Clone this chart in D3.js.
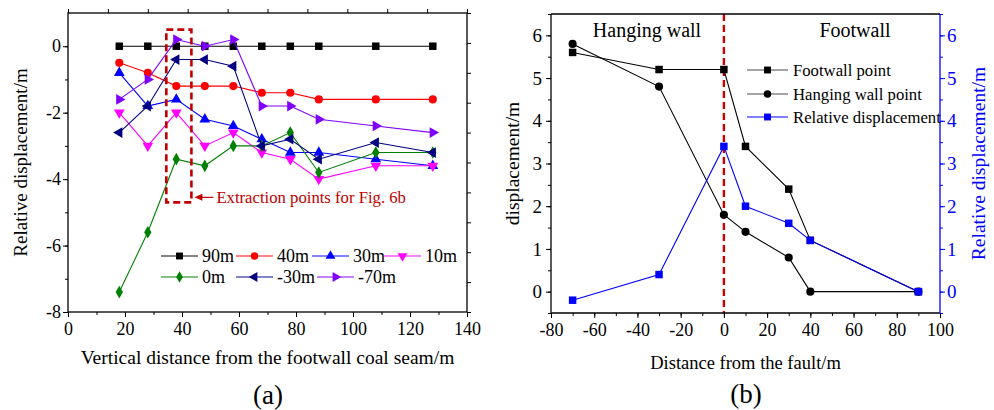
<!DOCTYPE html>
<html>
<head>
<meta charset="utf-8">
<script src="https://cdn.jsdelivr.net/npm/d3@7"></script>
<style>
  body { margin: 0; background: #fff; }
  svg { display: block; }
  text { font-family: "Liberation Serif", "Times New Roman", serif; }
</style>
</head>
<body>
<div id="plot"></div>
<script>
// ---- (a) relative displacement vs. vertical distance ----
const seamDist = [18, 28, 38, 48, 58, 68, 78, 88, 108, 128];
const d90  = [0, 0, 0, 0, 0, 0, 0, 0, 0, 0];
const d40  = [-0.5, -0.8, -1.2, -1.2, -1.2, -1.4, -1.4, -1.6, -1.6, -1.6];
const d30  = [-0.8, -1.8, -1.6, -2.2, -2.4, -2.8, -3.2, -3.2, -3.4, -3.6];
const d10  = [-2.0, -3.0, -2.0, -3.0, -2.6, -3.2, -3.4, -4.0, -3.6, -3.6];
const d0   = [-7.4, -5.6, -3.4, -3.6, -3.0, -3.0, -2.6, -3.8, -3.2, -3.2];
const dm30 = [-2.6, -1.8, -0.4, -0.4, -0.6, -3.0, -2.8, -3.4, -2.9, -3.2];
const dm70 = [-1.6, -1.0, 0.2, 0.0, 0.2, -1.8, -1.8, -2.2, -2.4, -2.6];
const seriesNames = ["90m", "40m", "30m", "10m", "0m", "-30m", "-70m"];
const seriesColors = ["#000000", "#ff0000", "#0000ff", "#ff00ff", "#008000", "#000080", "#8000ff"];
const xTicksA = [0, 20, 40, 60, 80, 100, 120, 140];
const yTicksA = [-8, -6, -4, -2, 0];
// extraction box in data units
const boxX = [34.5, 43.3];
const boxY = [0.5, -4.7];

// ---- (b) displacement vs. distance from the fault ----
const faultDist = [-70, -30, 0, 10, 30, 40, 90];
const footwall  = [5.6, 5.2, 5.2, 3.4, 2.4, 1.2, 0];
const hanging   = [5.8, 4.8, 1.8, 1.4, 0.8, 0, 0];
const relative  = [-0.2, 0.4, 3.4, 2.0, 1.6, 1.2, 0];
const xTicksB = [-80, -60, -40, -20, 0, 20, 40, 60, 80, 100];
const yTicksB = [0, 1, 2, 3, 4, 5, 6];

const width = 994, height = 410;
const serif = "'Liberation Serif', 'Times New Roman', serif";

const svg = d3.select("#plot").append("svg")
  .attr("width", width)
  .attr("height", height)
  .style("background", "#fff");

// symbol helper: type + rotation
const markers = [
  { type: d3.symbolSquare, size: 56, rot: 0 },
  { type: d3.symbolCircle, size: 52, rot: 0 },
  { type: d3.symbolTriangle, size: 50, rot: 0 },
  { type: d3.symbolTriangle, size: 50, rot: 180 },
  { type: d3.symbolDiamond, size: 46, rot: 0 },
  { type: d3.symbolTriangle, size: 50, rot: -90 },
  { type: d3.symbolTriangle, size: 50, rot: 90 }
];

const minus = d => d3.format("d")(d).replace("−", "-");

// draws minor ticks then labelled major ticks
function drawAxis(g, axisFn, scale, major, minor, majLen, minLen, fmt, color, fontSize, pad) {
  g.attr("font-family", serif);
  g.append("g").call(axisFn(scale).tickValues(minor).tickSize(minLen).tickFormat("").tickSizeOuter(0))
    .call(a => a.select(".domain").remove());
  const ax = g.append("g").call(axisFn(scale).tickValues(major).tickSize(majLen).tickPadding(pad || 3)
      .tickFormat(fmt || "").tickSizeOuter(0))
    .call(a => a.select(".domain").remove());
  g.selectAll("line").attr("stroke", color);
  g.selectAll("g").attr("font-family", serif);
  ax.selectAll("text")
    .attr("fill", color)
    .style("font-size", fontSize + "px")
    .style("font-family", serif);
  return ax;
}

// ================= (a) =================
const xA = d3.scaleLinear([0, 140], [68, 467]);
const yA = d3.scaleLinear([-8, 1], [312, 13]);
const gA = svg.append("g");

// mirror axes with ten even divisions (as in the source figure)
const topA = d3.scaleLinear([0, 10], [68, 467]);
const rightA = d3.scaleLinear([0, 10], [312, 13]);
drawAxis(gA.append("g").attr("transform", "translate(0,13)"), d3.axisTop, topA, d3.range(0, 11), [], 4, 0, null, "#000", 16);
drawAxis(gA.append("g").attr("transform", "translate(467,0)"), d3.axisRight, rightA, d3.range(0, 11), [], 4, 0, null, "#000", 16);

drawAxis(gA.append("g").attr("transform", "translate(0,312)"), d3.axisBottom, xA,
  xTicksA, d3.range(0, 141, 10), 5, 3, d3.format("d"), "#000", 18, 5);
drawAxis(gA.append("g").attr("transform", "translate(68,0)"), d3.axisLeft, yA,
  yTicksA, d3.range(-8, 1, 1), 5, 3, minus, "#000", 18, 2);

gA.append("rect")
  .attr("x", 68).attr("y", 13)
  .attr("width", 467 - 68).attr("height", 312 - 13)
  .attr("fill", "none").attr("stroke", "#000").attr("stroke-width", 1.3);

const seriesA = [d90, d40, d30, d10, d0, dm30, dm70];
const lineA = d3.line().x((d, i) => xA(seamDist[i])).y(d => yA(d));

seriesA.forEach((vals, k) => {
  const s = gA.append("g");
  s.append("path")
    .attr("d", lineA(vals))
    .attr("fill", "none")
    .attr("stroke", seriesColors[k])
    .attr("stroke-width", 1.1);
  s.selectAll("path.m").data(vals).enter().append("path")
    .attr("class", "m")
    .attr("d", d3.symbol(markers[k].type, markers[k].size))
    .attr("transform", (d, i) => `translate(${xA(seamDist[i])},${yA(d)}) rotate(${markers[k].rot})`)
    .attr("fill", seriesColors[k]);
});

// extraction box + arrow + note
const darkRed = "#c00000";
gA.append("rect")
  .attr("x", xA(boxX[0])).attr("y", yA(boxY[0]))
  .attr("width", xA(boxX[1]) - xA(boxX[0]))
  .attr("height", yA(boxY[1]) - yA(boxY[0]))
  .attr("fill", "none")
  .attr("stroke", darkRed)
  .attr("stroke-width", 2.6)
  .attr("stroke-dasharray", "7,4");

const arrowY = yA(boxY[1]) - 5;
gA.append("line")
  .attr("x1", xA(boxX[1]) + 6).attr("x2", xA(boxX[1]) + 22)
  .attr("y1", arrowY).attr("y2", arrowY)
  .attr("stroke", darkRed).attr("stroke-width", 1.2);
gA.append("path")
  .attr("d", `M${xA(boxX[1]) + 3},${arrowY} l8,-3.5 l0,7 z`)
  .attr("fill", darkRed);
gA.append("text")
  .attr("x", xA(boxX[1]) + 25).attr("y", arrowY + 5.5)
  .attr("fill", darkRed)
  .style("font-size", "16.7px")
  .text("Extraction points for Fig. 6b");

// legend (a)
const legRows = [[0, 1, 2, 3], [4, 5, 6]];
const legColX = [[161, 236, 312, 384], [161, 236, 317]];
const legRowY = [256, 277];
legRows.forEach((row, r) => {
  row.forEach((k, c) => {
    const x0 = legColX[r][c], y0 = legRowY[r];
    const lg = gA.append("g");
    lg.append("line")
      .attr("x1", x0).attr("x2", x0 + 37)
      .attr("y1", y0).attr("y2", y0)
      .attr("stroke", seriesColors[k])
      .attr("stroke-opacity", 0.65)
      .attr("stroke-width", 1.6);
    lg.append("path")
      .attr("d", d3.symbol(markers[k].type, markers[k].size * 0.85))
      .attr("transform", `translate(${x0 + 18.5},${y0}) rotate(${markers[k].rot})`)
      .attr("fill", seriesColors[k]);
    lg.append("text")
      .attr("x", x0 + 41).attr("y", y0 + 6)
      .style("font-size", "18px")
      .text(seriesNames[k]);
  });
});

gA.append("text")
  .attr("transform", `translate(27,${(13 + 312) / 2}) rotate(-90)`)
  .attr("text-anchor", "middle")
  .style("font-size", "19px")
  .text("Relative displacement/m");
gA.append("text")
  .attr("x", (68 + 467) / 2).attr("y", 364)
  .attr("text-anchor", "middle")
  .style("font-size", "19.5px")
  .text("Vertical distance from the footwall coal seam/m");
gA.append("text")
  .attr("x", 268).attr("y", 404)
  .attr("text-anchor", "middle")
  .style("font-size", "27px")
  .text("(a)");

// ================= (b) =================
const xB = d3.scaleLinear([-80, 100], [551, 940]);
const yB = d3.scaleLinear([-0.5, 6.5], [313, 14]);
const blue = "#0000ff";
const gB = svg.append("g");

// fault line
gB.append("line")
  .attr("x1", xB(0)).attr("x2", xB(0))
  .attr("y1", 14).attr("y2", 313)
  .attr("stroke", "#cc0000")
  .attr("stroke-width", 2.4)
  .attr("stroke-dasharray", "7,4");

drawAxis(gB.append("g").attr("transform", "translate(0,313)"), d3.axisBottom, xB,
  xTicksB, d3.range(-80, 101, 10), 5, 3, minus, "#000", 18, 5);
drawAxis(gB.append("g").attr("transform", "translate(551,0)"), d3.axisLeft, yB,
  yTicksB, d3.range(-0.5, 6.6, 0.5), 5, 3, d3.format("d"), "#000", 19, 4);
drawAxis(gB.append("g").attr("transform", "translate(940,0)"), d3.axisRight, yB,
  yTicksB, d3.range(-0.5, 6.6, 0.5), 5, 3, d3.format("d"), blue, 19, 2);

gB.append("line").attr("x1", 551).attr("x2", 940).attr("y1", 14).attr("y2", 14).attr("stroke", "#000").attr("stroke-width", 1.3);
gB.append("line").attr("x1", 551).attr("x2", 940).attr("y1", 313).attr("y2", 313).attr("stroke", "#000").attr("stroke-width", 1.3);
gB.append("line").attr("x1", 551).attr("x2", 551).attr("y1", 14).attr("y2", 313).attr("stroke", "#000").attr("stroke-width", 1.3);
gB.append("line").attr("x1", 940).attr("x2", 940).attr("y1", 14).attr("y2", 313).attr("stroke", blue).attr("stroke-width", 1.3);

const seriesB = [
  { name: "Footwall point", vals: footwall, color: "#000", mk: 0 },
  { name: "Hanging wall point", vals: hanging, color: "#000", mk: 1 },
  { name: "Relative displacement", vals: relative, color: blue, mk: 0 }
];
const lineB = d3.line().x((d, i) => xB(faultDist[i])).y(d => yB(d));

seriesB.forEach(s => {
  const g = gB.append("g");
  g.append("path")
    .attr("d", lineB(s.vals))
    .attr("fill", "none")
    .attr("stroke", s.color)
    .attr("stroke-width", 1.1);
  g.selectAll("path.m").data(s.vals).enter().append("path")
    .attr("class", "m")
    .attr("d", d3.symbol(markers[s.mk].type, markers[s.mk].size))
    .attr("transform", (d, i) => `translate(${xB(faultDist[i])},${yB(d)})`)
    .attr("fill", s.color);
});

// legend (b)
const legBY = [70, 94, 117];
seriesB.forEach((s, k) => {
  const y0 = legBY[k];
  gB.append("line")
    .attr("x1", 747).attr("x2", 788)
    .attr("y1", y0).attr("y2", y0)
    .attr("stroke", s.color)
    .attr("stroke-opacity", s.color === blue ? 1 : 0.7)
    .attr("stroke-width", 1.2);
  gB.append("path")
    .attr("d", d3.symbol(markers[s.mk].type, markers[s.mk].size * 0.85))
    .attr("transform", `translate(767.5,${y0})`)
    .attr("fill", s.color);
  gB.append("text")
    .attr("x", 793).attr("y", y0 + 5.5)
    .style("font-size", "16.7px")
    .text(s.name);
});

gB.append("text")
  .attr("x", 647).attr("y", 37)
  .attr("text-anchor", "middle")
  .style("font-size", "20px")
  .text("Hanging wall");
gB.append("text")
  .attr("x", 855).attr("y", 37)
  .attr("text-anchor", "middle")
  .style("font-size", "20px")
  .text("Footwall");

gB.append("text")
  .attr("transform", `translate(519,${(14 + 313) / 2}) rotate(-90)`)
  .attr("text-anchor", "middle")
  .style("font-size", "19.5px")
  .text("displacement/m");
gB.append("text")
  .attr("transform", `translate(985,${(14 + 313) / 2}) rotate(-90)`)
  .attr("text-anchor", "middle")
  .attr("fill", blue)
  .style("font-size", "19.5px")
  .text("Relative displacement/m");
gB.append("text")
  .attr("x", (551 + 940) / 2).attr("y", 369)
  .attr("text-anchor", "middle")
  .style("font-size", "18.5px")
  .text("Distance from the fault/m");
gB.append("text")
  .attr("x", 746).attr("y", 403)
  .attr("text-anchor", "middle")
  .style("font-size", "27px")
  .text("(b)");
</script>
</body>
</html>
